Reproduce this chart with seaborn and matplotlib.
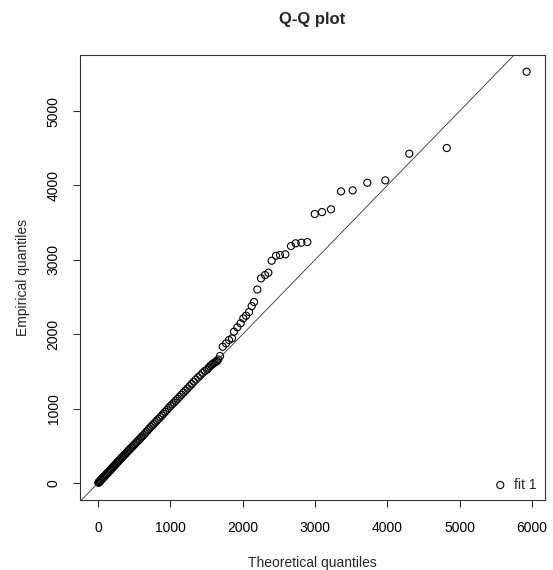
import matplotlib
matplotlib.use("agg")
import matplotlib.pyplot as plt
import seaborn as sns
import pandas as pd

theoretical = [5, 10, 15, 20, 26, 32, 38, 44, 50, 57, 64, 71, 78, 85, 93, 101, 109, 117, 125,
               134, 143, 152, 161, 170, 180, 190, 200, 211, 222, 233, 244, 256, 268, 280, 292,
               305, 318, 331, 344, 358, 372, 386, 400, 415, 430, 445, 460, 476, 492, 508, 525,
               542, 559, 577, 595, 613, 632, 651, 670, 690, 710, 730, 751, 772, 793, 815, 837,
               859, 882, 905, 928, 952, 976, 1000, 1025, 1050, 1076, 1102, 1128, 1155, 1182,
               1210, 1238, 1266, 1295, 1324, 1354, 1384, 1414, 1445, 1476, 1508, 1530, 1548,
               1565, 1580, 1596, 1612, 1628, 1645, 1662, 1687, 1724, 1770, 1811, 1853, 1880,
               1926, 1972, 2009, 2046, 2088, 2125, 2157, 2203, 2254, 2309, 2355, 2401, 2461,
               2516, 2590, 2668, 2733, 2811, 2894, 2996, 3097, 3221, 3360, 3520, 3723, 3972,
               4304, 4822, 5926]
empirical = [3, 9, 14, 21, 25, 33, 37, 45, 52, 56, 66, 72, 80, 86, 95, 103, 110, 120, 128,
             136, 147, 155, 164, 175, 184, 196, 205, 218, 228, 241, 252, 265, 279, 290, 303,
             318, 330, 343, 356, 372, 385, 398, 413, 430, 444, 460, 474, 490, 507, 522, 540,
             556, 575, 592, 612, 630, 648, 668, 690, 712, 733, 754, 776, 796, 817, 840, 861,
             884, 908, 932, 957, 981, 1008, 1034, 1058, 1082, 1108, 1133, 1160, 1188, 1216,
             1243, 1272, 1302, 1330, 1362, 1390, 1420, 1446, 1478, 1505, 1525, 1550, 1570,
             1585, 1598, 1608, 1618, 1630, 1640, 1660, 1707, 1832, 1877, 1922, 1945, 2034,
             2093, 2147, 2213, 2249, 2298, 2379, 2433, 2601, 2751, 2796, 2827, 2988, 3055,
             3065, 3074, 3185, 3222, 3230, 3239, 3616, 3642, 3679, 3920, 3934, 4036, 4068,
             4426, 4503, 5528]
x_ticks = [0, 1000, 2000, 3000, 4000, 5000, 6000]
y_ticks = [0, 1000, 2000, 3000, 4000, 5000]

df = pd.DataFrame({'teorico': theoretical, 'empirico': empirical})

sns.set_style("ticks")
plt.rcParams['font.family'] = ['Liberation Sans', 'DejaVu Sans']

fig = plt.figure(figsize=(5.53, 5.70), dpi=100)
ax = fig.add_axes([80 / 553, 1 - 500 / 570, 465 / 553, 445 / 570])

sns.scatterplot(data=df, x='teorico', y='empirico', ax=ax, marker='o', s=26,
                facecolors='none', edgecolor='black', linewidth=0.8, label='fit 1')
ax.axline((0, 0), slope=1, color='#333333', linewidth=0.6)

ax.set_xlim(-249, 6180)
ax.set_ylim(-228, 5753)
ax.set_xticks(x_ticks)
ax.set_yticks(y_ticks)
ax.tick_params(direction='out', length=5, width=0.8, colors='#333333', labelsize=10,
               labelcolor='black')
ax.tick_params(axis='x', pad=10)
ax.tick_params(axis='y', pad=9)
for lab in ax.get_yticklabels():
    lab.set_rotation(90)
    lab.set_va('center')
for s in ax.spines.values():
    s.set_visible(True)
    s.set_color('#333333')
    s.set_linewidth(0.8)

ax.set_xlabel('Theoretical quantiles', fontsize=10)
ax.set_ylabel('Empirical quantiles', fontsize=10)
ax.xaxis.set_label_coords(0.5, -0.126)
ax.yaxis.set_label_coords(-0.108, 0.5)
ax.set_title('Q-Q plot', fontsize=12, fontweight='bold', pad=22)

ax.legend(loc='lower right', frameon=False, fontsize=10, handlelength=1.0,
          handletextpad=0.5, borderaxespad=0.2)

fig.savefig('out.png', dpi=100, facecolor='white')
